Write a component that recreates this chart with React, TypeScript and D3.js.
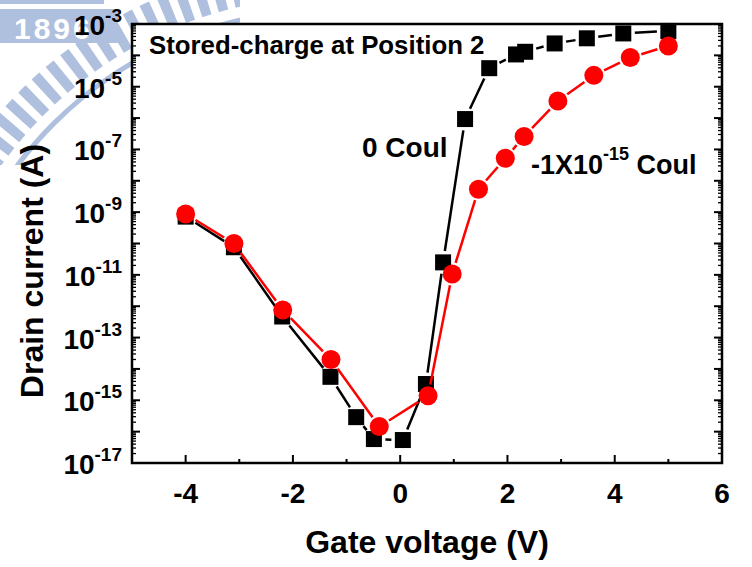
import * as d3 from "d3";
import { useEffect, useRef } from "react";

// 0 Coul (black squares)
const gateV0 = [-4, -3.1, -2.2, -1.3, -0.82, -0.49, 0.05, 0.48, 0.8, 1.21, 1.66, 2.16, 2.33, 2.88, 3.48, 4.16, 5.0];
const current0 = [7.2e-10, 7.6e-11, 4.7e-13, 5.6e-15, 2.9e-16, 5.8e-17, 5.4e-17, 3.3e-15, 2.5e-11, 9.3e-7, 3.9e-5, 1.07e-4, 1.3e-4, 2.4e-4, 3.5e-4, 5.0e-4, 6.0e-4];

// -1X10^-15 Coul (red circles)
const gateV1 = [-4, -3.1, -2.19, -1.29, -0.39, 0.52, 0.97, 1.46, 1.96, 2.31, 2.94, 3.61, 4.29, 5.0];
const current1 = [8.7e-10, 1.0e-10, 7.6e-13, 2.0e-14, 1.45e-16, 1.4e-15, 1.07e-11, 5.4e-9, 5.2e-8, 2.6e-7, 3.5e-6, 2.3e-5, 8.5e-5, 2.0e-4];

const xTicks = [-4, -2, 0, 2, 4, 6];
const xMinorTicks = [-5, -3, -1, 1, 3, 5];
const yExponents = [-3, -5, -7, -9, -11, -13, -15, -17];

const FONT = "Arial, 'Liberation Sans', sans-serif";

function App() {
   const ref = useRef<SVGSVGElement>(null);

   useEffect(() => {
      const width = 752;
      const height = 567;
      const plot = { left: 132, right: 722, top: 24, bottom: 463 };

      const svg = d3.select(ref.current);
      svg.selectAll("*").remove();
      svg.attr("width", width).attr("height", height);

      const xScale = d3.scaleLinear().domain([-5, 6]).range([plot.left, plot.right]);
      const yScale = d3.scaleLog().domain([1e-17, 1e-3]).range([plot.bottom, plot.top]);

      // faded watermark, only its corner shows
      svg.append("defs")
         .append("clipPath").attr("id", "wm-clip")
         .append("rect").attr("x", 0).attr("y", 0).attr("width", 240).attr("height", 165);
      const wm = svg.append("g").attr("clip-path", "url(#wm-clip)").attr("opacity", 0.55);
      const wmColor = "#6f8cc4";
      const cx = 328, cy = 398;
      wm.append("circle")
         .attr("cx", cx).attr("cy", cy).attr("r", 418)
         .attr("fill", "none").attr("stroke", wmColor)
         .attr("stroke-width", 34).attr("stroke-dasharray", "10 8");
      wm.append("circle")
         .attr("cx", cx).attr("cy", cy).attr("r", 388)
         .attr("fill", "none").attr("stroke", wmColor).attr("stroke-width", 5);
      wm.append("rect").attr("x", 0).attr("y", 0).attr("width", 104).attr("height", 4).attr("fill", wmColor);
      wm.append("rect").attr("x", 0).attr("y", 9).attr("width", 118).attr("height", 34).attr("fill", wmColor);
      wm.append("text")
         .text("1896")
         .attr("x", 14).attr("y", 39)
         .attr("font-family", FONT).attr("font-weight", "bold")
         .attr("font-size", 30).attr("letter-spacing", 3)
         .attr("fill", "#ffffff");

      // plot area
      svg.append("rect")
         .attr("x", plot.left).attr("y", plot.top)
         .attr("width", plot.right - plot.left).attr("height", plot.bottom - plot.top)
         .attr("fill", "#ffffff");

      const axes = svg.append("g").attr("stroke", "#000").attr("stroke-width", 2);

      // bottom ticks (inward)
      xTicks.forEach((t) => {
         axes.append("line").attr("x1", xScale(t)).attr("x2", xScale(t))
            .attr("y1", plot.bottom).attr("y2", plot.bottom - 8);
      });
      xMinorTicks.forEach((t) => {
         axes.append("line").attr("x1", xScale(t)).attr("x2", xScale(t))
            .attr("y1", plot.bottom).attr("y2", plot.bottom - 4);
      });

      // left / right log ticks (inward)
      for (let e = -17; e < -3; e++) {
         for (let m = 1; m < 10; m++) {
            const yy = yScale(m * Math.pow(10, e));
            const len = m === 1 ? 8 : 4;
            const w = m === 1 ? 2 : 1.3;
            axes.append("line").attr("x1", plot.left).attr("x2", plot.left + len)
               .attr("y1", yy).attr("y2", yy).attr("stroke-width", w);
            axes.append("line").attr("x1", plot.right).attr("x2", plot.right - len)
               .attr("y1", yy).attr("y2", yy).attr("stroke-width", w);
         }
      }

      // frame
      svg.append("rect")
         .attr("x", plot.left).attr("y", plot.top)
         .attr("width", plot.right - plot.left).attr("height", plot.bottom - plot.top)
         .attr("fill", "none").attr("stroke", "#000").attr("stroke-width", 2.5);

      // tick labels
      svg.append("g")
         .selectAll("text")
         .data(xTicks)
         .enter()
         .append("text")
         .text((d) => String(d))
         .attr("x", (d) => xScale(d))
         .attr("y", plot.bottom + 40)
         .attr("text-anchor", "middle")
         .attr("font-family", FONT).attr("font-weight", "bold").attr("font-size", 28);

      const yLabels = svg.append("g")
         .attr("font-family", FONT).attr("font-weight", "bold");
      yExponents.forEach((e) => {
         const t = yLabels.append("text")
            .attr("x", 122)
            .attr("y", yScale(Math.pow(10, e)) + 11)
            .attr("text-anchor", "end");
         t.append("tspan").attr("font-size", 28).text("10");
         t.append("tspan").attr("font-size", 19).attr("dy", -13).text(String(e));
      });

      // series: line segments with small gaps around markers
      const drawLine = (xs: number[], ys: number[], color: string, gap: number) => {
         const g = svg.append("g").attr("stroke", color).attr("stroke-width", 2.5);
         for (let i = 0; i < xs.length - 1; i++) {
            const x1 = xScale(xs[i]), y1 = yScale(ys[i]);
            const x2 = xScale(xs[i + 1]), y2 = yScale(ys[i + 1]);
            const len = Math.hypot(x2 - x1, y2 - y1);
            if (len <= 2 * gap) continue;
            const ux = (x2 - x1) / len, uy = (y2 - y1) / len;
            g.append("line")
               .attr("x1", x1 + ux * gap).attr("y1", y1 + uy * gap)
               .attr("x2", x2 - ux * gap).attr("y2", y2 - uy * gap);
         }
      };

      drawLine(gateV0, current0, "#000000", 11.5);
      svg.append("g")
         .selectAll("rect")
         .data(gateV0)
         .enter()
         .append("rect")
         .attr("x", (d) => xScale(d) - 8)
         .attr("y", (d, i) => yScale(current0[i]) - 8)
         .attr("width", 16)
         .attr("height", 16)
         .attr("fill", "#000000");

      drawLine(gateV1, current1, "#ff0000", 11.5);
      svg.append("g")
         .selectAll("circle")
         .data(gateV1)
         .enter()
         .append("circle")
         .attr("cx", (d) => xScale(d))
         .attr("cy", (d, i) => yScale(current1[i]))
         .attr("r", 9.5)
         .attr("fill", "#ff0000");

      // annotations
      const notes = svg.append("g")
         .attr("font-family", FONT).attr("font-weight", "bold").attr("fill", "#000");
      notes.append("text").text("Stored-charge at Position 2")
         .attr("x", 149).attr("y", 54).attr("font-size", 25.8);
      notes.append("text").text("0 Coul")
         .attr("x", 362).attr("y", 157).attr("font-size", 28);
      const neg = notes.append("text").attr("x", 531).attr("y", 174);
      neg.append("tspan").attr("font-size", 27).text("-1X10");
      neg.append("tspan").attr("font-size", 18).attr("dy", -14).text("-15");
      neg.append("tspan").attr("font-size", 27).attr("dy", 14).text(" Coul");

      // axis titles
      svg.append("text").text("Gate voltage (V)")
         .attr("x", (plot.left + plot.right) / 2).attr("y", 553)
         .attr("text-anchor", "middle")
         .attr("font-family", FONT).attr("font-weight", "bold").attr("font-size", 32);
      svg.append("text").text("Drain current (A)")
         .attr("transform", `translate(43,${271}) rotate(-90)`)
         .attr("text-anchor", "middle")
         .attr("font-family", FONT).attr("font-weight", "bold").attr("font-size", 32);
   }, []);

   return (
      <svg
         ref={ref}
         style={{ position: "absolute", left: 0, top: 0, display: "block", background: "#fff" }}
      ></svg>
   );
}

export default App;
